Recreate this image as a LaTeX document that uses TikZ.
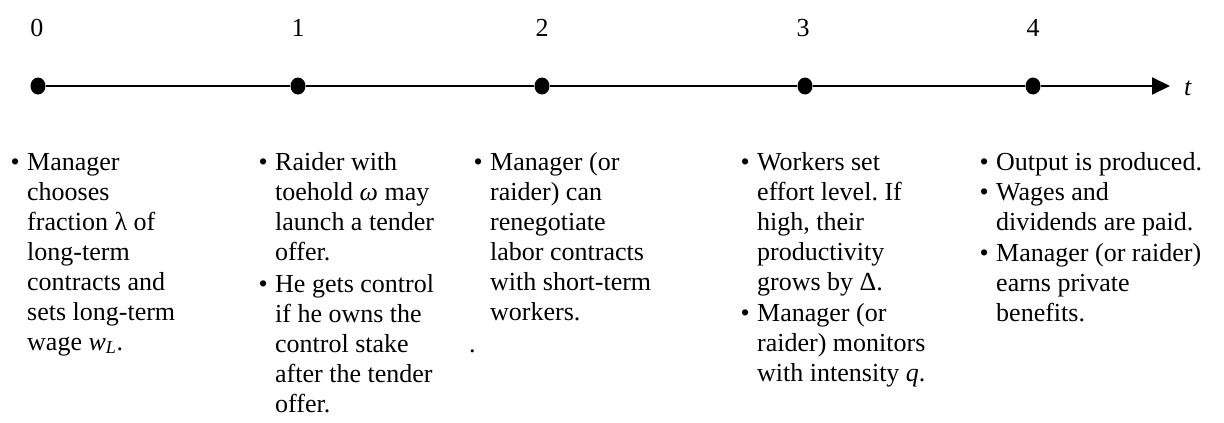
\documentclass[tikz,border=0pt]{standalone}
\usepackage{fontspec}
\setmainfont{Liberation Serif}
\usetikzlibrary{arrows.meta,shapes.geometric}
\frenchspacing
\begin{document}
\begin{tikzpicture}[x=1pt,y=-1pt,
  txt/.style={anchor=base west, inner sep=0pt, font=\fontsize{26}{30}\selectfont},
  num/.style={anchor=base, inner sep=0pt, font=\fontsize{26}{30}\selectfont},
  dot/.style={ellipse, fill=black, inner sep=0pt, minimum width=15pt, minimum height=17pt},
  axis/.style={line width=2pt, -{Triangle[length=18pt,width=17pt]}}]
\useasboundingbox (0,0) rectangle (1224,423);
% time labels
\node[num] (n0) at (37,36) {0};
\node[num] (n1) at (298,36) {1};
\node[num] (n2) at (542,36) {2};
\node[num] (n3) at (803,36) {3};
\node[num] (n4) at (1033,36) {4};
% dots
\node[dot] (d0) at (38,86) {};
\node[dot] (d1) at (298,86) {};
\node[dot] (d2) at (542,86) {};
\node[dot] (d3) at (805,86) {};
\node[dot] (d4) at (1033,86) {};
\coordinate (tip) at (1170,86);
\draw[axis] (d0) -- (d1) -- (d2) -- (d3) -- (d4) -- (tip);
\node[anchor=base west, inner sep=0pt, font=\fontsize{26}{30}\selectfont\itshape] (tl) at (1184,95) {t};
% columns
\node[txt] (c0) at (10.5,170) {\begin{tabular}[t]{@{}l@{\hspace{7.4pt}}l@{}}
•&Manager\\
&chooses\\
&fraction λ of\\
&long-term\\
&contracts and\\
&sets long-term\\
&wage \textit{w}\textsubscript{\textit{L}}.
\end{tabular}};
\node[txt] (c1) at (258.5,170) {\begin{tabular}[t]{@{}l@{\hspace{7.4pt}}l@{}}
•&Raider with\\
&toehold {\itshape ω} may\\
&launch a tender\\
&offer.\\[2pt]
•&He gets control\\
&if he owns the\\
&control stake\\
&after the tender\\
&offer.
\end{tabular}};
\node[txt] (c2) at (473.5,170) {\begin{tabular}[t]{@{}l@{\hspace{7.4pt}}l@{}}
•&Manager (or\\
&raider) can\\
&renegotiate\\
&labor contracts\\
&with short-term\\
&workers.
\end{tabular}};
\node[txt] (c2dot) at (469,352) {.};
\node[txt] (c3) at (740.5,170) {\begin{tabular}[t]{@{}l@{\hspace{7.4pt}}l@{}}
•&Workers set\\
&effort level. If\\
&high, their\\
&productivity\\
&grows by Δ.\\[1pt]
•&Manager (or\\
&raider) monitors\\
&with intensity \textit{q}.
\end{tabular}};
\node[txt] (c4) at (979.5,170) {\begin{tabular}[t]{@{}l@{\hspace{7.4pt}}l@{}}
•&Output is produced.\\
•&Wages and\\
&dividends are paid.\\[1pt]
•&Manager (or raider)\\
&earns private\\
&benefits.
\end{tabular}};
\end{tikzpicture}
\end{document}
